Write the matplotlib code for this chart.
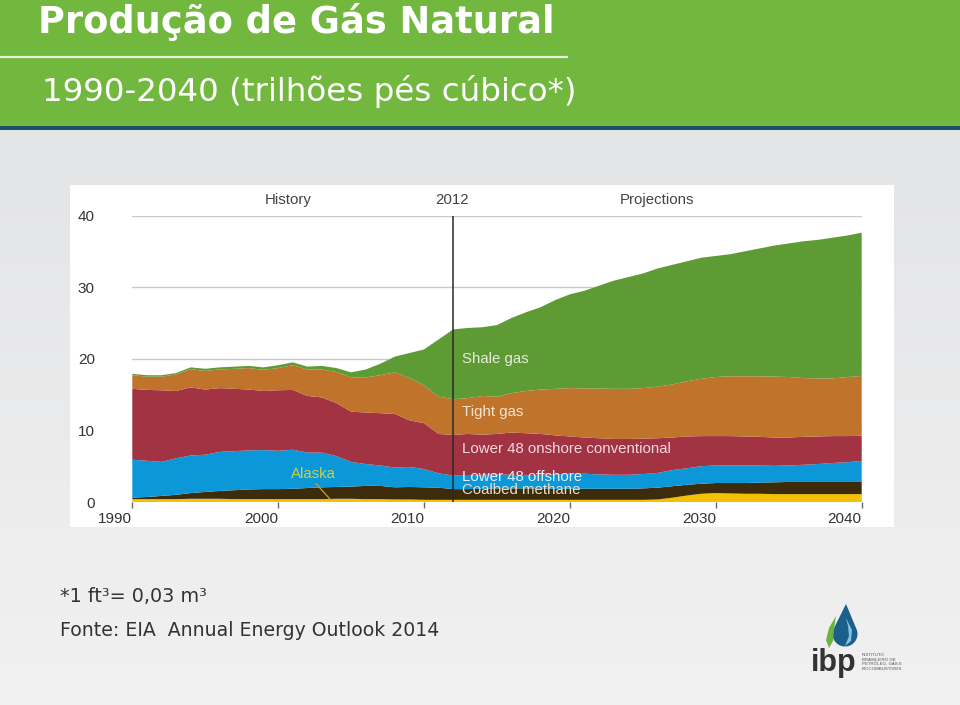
import numpy as np
import matplotlib
matplotlib.use("Agg")
import matplotlib.pyplot as plt
from matplotlib.patches import Rectangle, Polygon
from matplotlib.transforms import ScaledTranslation

# ---------------- data (trillion cubic feet) ----------------
years = list(range(1990, 2041))

alaska = [0.4, 0.4, 0.4, 0.4, 0.45, 0.45, 0.45, 0.4, 0.4, 0.4,
          0.4, 0.4, 0.4, 0.4, 0.45, 0.45, 0.4, 0.4, 0.35, 0.35,
          0.3, 0.3, 0.3, 0.3, 0.3, 0.3, 0.3, 0.3, 0.3, 0.3,
          0.3, 0.3, 0.3, 0.3, 0.3, 0.3, 0.35, 0.6, 0.9, 1.15,
          1.25, 1.2, 1.15, 1.15, 1.1, 1.1, 1.1, 1.1, 1.1, 1.1, 1.1]
coalbed = [0.2, 0.3, 0.45, 0.6, 0.8, 0.95, 1.1, 1.25, 1.35, 1.4,
           1.4, 1.45, 1.55, 1.65, 1.65, 1.7, 1.85, 1.85, 1.7, 1.75,
           1.75, 1.7, 1.5, 1.5, 1.55, 1.6, 1.6, 1.6, 1.6, 1.55,
           1.55, 1.55, 1.55, 1.55, 1.55, 1.6, 1.65, 1.6, 1.5, 1.4,
           1.4, 1.45, 1.5, 1.55, 1.65, 1.7, 1.7, 1.7, 1.7, 1.7, 1.7]
offshore = [5.3, 5.05, 4.75, 5.1, 5.25, 5.2, 5.45, 5.45, 5.45, 5.45,
            5.35, 5.45, 4.95, 4.85, 4.3, 3.45, 3.05, 2.85, 2.75, 2.8,
            2.55, 2.0, 1.9, 1.85, 1.95, 1.95, 1.9, 1.85, 1.9, 2.0,
            2.1, 2.1, 2.0, 1.95, 1.95, 2.0, 2.05, 2.25, 2.3, 2.45,
            2.45, 2.45, 2.45, 2.4, 2.3, 2.3, 2.4, 2.5, 2.65, 2.75, 2.95]
onshore_conv = [9.9, 9.9, 10.0, 9.4, 9.5, 9.1, 8.9, 8.7, 8.5, 8.25,
                8.45, 8.35, 7.9, 7.7, 7.4, 7.0, 7.2, 7.3, 7.5, 6.5,
                6.4, 5.5, 5.65, 5.85, 5.6, 5.65, 5.9, 5.85, 5.7, 5.45,
                5.2, 5.05, 5.05, 5.0, 5.0, 4.95, 4.85, 4.55, 4.45, 4.2,
                4.1, 4.1, 4.05, 4.0, 3.95, 3.9, 3.9, 3.85, 3.75, 3.65, 3.5]
tight = [1.9, 1.85, 1.9, 2.3, 2.55, 2.6, 2.6, 2.8, 3.0, 2.95,
         3.1, 3.45, 3.7, 3.9, 4.35, 4.8, 4.9, 5.3, 5.8, 5.9,
         5.3, 5.2, 5.0, 5.0, 5.4, 5.2, 5.5, 5.9, 6.2, 6.5,
         6.75, 6.85, 6.95, 7.0, 7.0, 7.05, 7.2, 7.4, 7.7, 8.0,
         8.25, 8.35, 8.4, 8.45, 8.5, 8.45, 8.2, 8.1, 8.05, 8.25, 8.35]
shale = [0.2, 0.2, 0.2, 0.2, 0.25, 0.3, 0.3, 0.3, 0.3, 0.35,
         0.4, 0.4, 0.4, 0.5, 0.55, 0.7, 1.1, 1.6, 2.2, 3.5,
         5.0, 8.0, 9.75, 9.8, 9.6, 10.0, 10.5, 11.0, 11.5, 12.4,
         13.1, 13.65, 14.35, 15.1, 15.6, 16.0, 16.5, 16.7, 16.75, 16.9,
         16.9, 17.05, 17.45, 17.85, 18.3, 18.65, 19.1, 19.35, 19.65, 19.75, 20.0]

x_ticks = [1990, 2000, 2010, 2020, 2030, 2040]
y_ticks = [0, 10, 20, 30, 40]
base_year = 2012

series_colors = ["#f4c000", "#3d2c0b", "#0c97d9", "#a23343", "#c0732b", "#5e9b35"]

SLIDE = ["DejaVu Sans"]
ARIAL = ["Liberation Sans", "DejaVu Sans"]

fig = plt.figure(figsize=(9.6, 7.05), dpi=100)

# ---------------- slide decorations ----------------
bg = fig.add_axes([0, 0, 1, 1])
bg.set_xlim(0, 960)
bg.set_ylim(705, 0)
bg.axis("off")
grad = np.linspace(0, 1, 256).reshape(-1, 1)
c0 = np.array([0.890, 0.894, 0.902])
c1 = np.array([0.945, 0.945, 0.945])
img = c0 + (c1 - c0) * grad[..., None]
img = np.repeat(img, 2, axis=1)
bg.imshow(img, extent=[0, 960, 705, 130], aspect="auto", zorder=0)
bg.add_patch(Rectangle((0, 0), 960, 126, fc="#72b83e", ec="none", zorder=1))
bg.add_patch(Rectangle((0, 126), 960, 4, fc="#1d4f6e", ec="none", zorder=1))
bg.plot([0, 567], [57, 57], color="#e4f1d9", lw=1.6, zorder=2)
bg.text(38, 22, "Produção de Gás Natural", family=SLIDE, weight="bold",
        fontsize=26.5, color="white", va="center", ha="left", zorder=3)
bg.text(42, 91, "1990-2040 (trilhões pés cúbico*)", family=SLIDE,
        fontsize=23.4, color="white", va="center", ha="left", zorder=3)
# white chart panel
bg.add_patch(Rectangle((70, 185), 824, 342, fc="white", ec="none", zorder=1))
# footnotes
bg.text(60, 597, "*1 ft³= 0,03 m³", family=SLIDE, fontsize=13.8,
        color="#333333", va="center", ha="left")
bg.text(60, 631, "Fonte: EIA  Annual Energy Outlook 2014", family=SLIDE,
        fontsize=13.6, color="#333333", va="center", ha="left")

# ibp logo (approximation)
cx, cy, r = 845, 634, 12.5
pts = [(cx + r * np.sin(a), cy + r * np.cos(a)) for a in np.linspace(-np.pi * 0.62, np.pi * 0.62, 40)]
pts = [(cx + 1, 604)] + pts[::-1]
bg.add_patch(Polygon(pts, closed=True, fc="#1b5f8c", ec="none", zorder=3))
leaf = [(836, 616), (829, 628), (826, 640), (829, 648), (833, 641), (834, 630)]
bg.add_patch(Polygon(leaf, closed=True, fc="#6cb33f", ec="none", zorder=4))
inner = [(846, 618), (852, 630), (851, 641), (845, 646), (849, 636), (848, 626)]
bg.add_patch(Polygon(inner, closed=True, fc="#7fc3e0", ec="none", zorder=4))
bg.text(811, 671, "ibp", family=ARIAL, weight="bold", fontsize=22,
        color="#333333", va="baseline", ha="left", zorder=4)
bg.text(862, 662, "INSTITUTO\nBRASILEIRO DE\nPETRÓLEO, GÁS E\nBIOCOMBUSTÍVEIS",
        family=ARIAL, fontsize=3.2, linespacing=1.15,
        color="#555555", va="center", ha="left", zorder=4)

# ---------------- chart ----------------
ax = fig.add_axes([132.3 / 960, 1 - 502 / 705, (861.7 - 132.3) / 960, (502 - 215.5) / 705])
ax.set_facecolor("none")
ax.stackplot(years, alaska, coalbed, offshore, onshore_conv, tight, shale,
             colors=series_colors, linewidth=0, zorder=2)
ax.set_xlim(1990, 2040)
ax.set_ylim(0, 40)
for v in y_ticks[1:]:
    ax.plot([1990, 2040], [v, v], color="#c9c9c9", lw=1.0, zorder=1)
ax.plot([base_year, base_year], [0, 40], color="#2a2a2a", lw=1.1, zorder=3)
for sp in ax.spines.values():
    sp.set_visible(False)

ax.set_xticks(x_ticks)
ax.set_xticklabels([str(v) for v in x_ticks], family=ARIAL, fontsize=11, color="#333333", ha="right")
offset = ScaledTranslation(3 / 72, 0, fig.dpi_scale_trans)
for lbl in ax.get_xticklabels():
    lbl.set_transform(lbl.get_transform() + offset)
ax.tick_params(axis="x", direction="out", length=4, width=1, color="#666666", pad=3)
ax.set_yticks(y_ticks)
ax.set_yticklabels([str(v) for v in y_ticks], family=ARIAL, fontsize=11, color="#333333")
ax.tick_params(axis="y", length=0, pad=27)

# header labels
for xv, s in [(2000.7, "History"), (2011.9, "2012"), (2026.0, "Projections")]:
    ax.text(xv, 42.1, s, family=ARIAL, fontsize=10.8, color="#444444",
            ha="center", va="center", clip_on=False)

# in-chart series labels
lx = 2012.6
lab_fs = 10.8
ax.text(lx, 19.9, "Shale gas", family=ARIAL, fontsize=lab_fs, color="#e3eed6", va="center", ha="left", zorder=4)
ax.text(lx, 12.5, "Tight gas", family=ARIAL, fontsize=lab_fs, color="#f6e3cd", va="center", ha="left", zorder=4)
ax.text(lx, 7.35, "Lower 48 onshore conventional", family=ARIAL, fontsize=lab_fs, color="#f3d9dd", va="center", ha="left", zorder=4)
ax.text(lx, 3.55, "Lower 48 offshore", family=ARIAL, fontsize=lab_fs, color="#dff2fc", va="center", ha="left", zorder=4)
ax.text(lx, 1.7, "Coalbed methane", family=ARIAL, fontsize=lab_fs, color="#eadfc4", va="center", ha="left", zorder=4)
ax.text(2002.4, 3.9, "Alaska", family=ARIAL, fontsize=lab_fs, color="#c9d046", va="center", ha="center", zorder=4)
ax.plot([2002.6, 2003.6], [2.55, 0.3], color="#c9a326", lw=0.9, zorder=4)

fig.savefig("out.png", dpi=100)
